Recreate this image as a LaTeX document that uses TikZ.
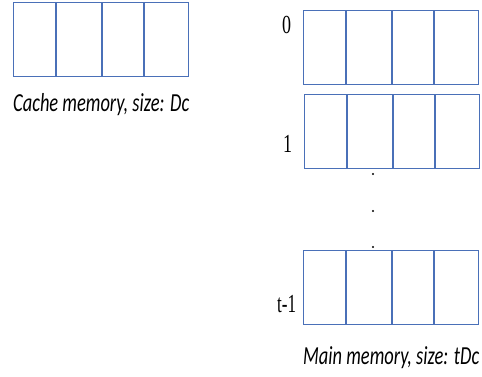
\documentclass[tikz,border=0pt]{standalone}
\usepackage{fontspec}
\setmainfont{Carlito}
\newfontfamily\labelfont{Liberation Serif}
\usepackage{graphicx}
\definecolor{boxblue}{HTML}{4A70B8}
\tikzset{
  membox/.style={draw=boxblue, line width=1.4pt, minimum width=175pt, minimum height=74pt, inner sep=0pt, anchor=north west},
  divider/.style={draw=boxblue, line width=1.2pt},
  idxlabel/.style={inner sep=0pt, anchor=base west, text=black},
  captionlabel/.style={inner sep=0pt, anchor=base west, text=black},
  dotmark/.style={fill=black, circle, inner sep=0pt, minimum size=2.4pt}
}
\newcommand{\mkdiv}[1]{%
  \foreach \dx in {43,89,131} {\draw[divider] ([xshift=\dx pt]#1.north west) -- ([xshift=\dx pt]#1.south west);}}
\newcommand{\idxtext}[2]{\resizebox{#1}{\height}{\fontsize{26}{26}\selectfont\labelfont #2}}
\newcommand{\captext}[1]{\resizebox{176pt}{\height}{\fontsize{26}{26}\selectfont\itshape #1}}
\begin{document}
\begin{tikzpicture}[x=1pt,y=-1pt]
\useasboundingbox (0,0) rectangle (482,376);
% cache
\node[membox] (cache) at (13,2) {};
\mkdiv{cache}
\node[captionlabel] (cachecap) at (13,111) {\captext{Cache memory, size: Dc}};
% main memory blocks
\node[membox] (m0) at (303,10) {};
\mkdiv{m0}
\node[membox] (m1) at (304,94) {};
\mkdiv{m1}
\node[membox] (mt) at (303,250) {};
\mkdiv{mt}
\node[idxlabel] (l0) at (282,33) {\idxtext{9pt}{0}};
\node[idxlabel] (l1) at (283,152) {\idxtext{9pt}{1}};
\node[idxlabel] (lt) at (277,312) {\idxtext{19pt}{t-1}};
\node[dotmark] (d1) at (373,174) {};
\node[dotmark] (d2) at (373,211) {};
\node[dotmark] (d3) at (373,247) {};
\node[captionlabel] (maincap) at (303,364) {\captext{Main memory, size: tDc}};
\end{tikzpicture}
\end{document}
